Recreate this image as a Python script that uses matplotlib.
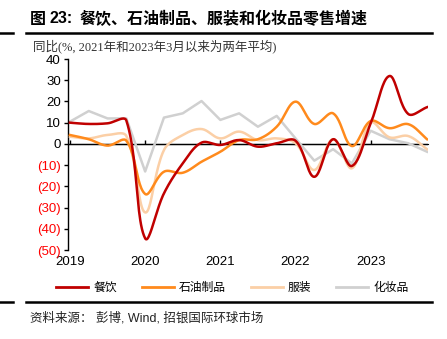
import numpy as np
import matplotlib
matplotlib.use("Agg")
import matplotlib.pyplot as plt
from matplotlib.lines import Line2D

plt.rcParams['font.family'] = ['Liberation Sans', 'Noto Sans CJK SC', 'DejaVu Sans']

# quarterly, 2019Q1 .. 2023Q4
years = ['2019', '2020', '2021', '2022', '2023']
catering = [10, 9.4, 9.7, 11, -44.5, -23.3, -9.2, 0.6, -0.5, 1.8, -1.3, 0.3, 1.5, -15.5, 2.2, -10.4, 9.7, 32, 14.1, 17.3]
petroleum = [4.2, 2.2, -0.8, 1.5, -23.6, -13.1, -13.6, -8.4, -3.7, 1.8, 2.2, 8.1, 19.9, 9.4, 14.4, -1, 10.8, 7.4, 9.3, 2.2]
apparel = [3.4, 2.6, 4.2, 3.7, -32.3, -2.9, 4.2, 7, 2.6, 5.8, 1.8, 2.6, 0.3, -12.3, 2.2, -11.5, 10, 3.1, 3.7, -2.5]
cosmetics = [10.5, 15.5, 12, 12, -13, 12.4, 14.4, 20.2, 11.3, 14.4, 8.1, 13.2, 2.6, -7.9, -2.5, -9.2, 6.2, 2.2, 0.3, -3.7]
names = ['餐饮', '石油制品', '服装', '化妆品']
colors = ['#C00000', '#FF8A1C', '#FBCFA6', '#D0D0D0']


def smooth(y, sx=18.75, sy=2.12, s=0.36, n=24):
    # excel-like smoothed line: bezier with chord-length weighted control points
    x = np.arange(len(y)) * sx
    y = np.asarray(y, float) * sy
    P = np.column_stack([x, y])
    m = len(P)
    cin = P.copy()
    cout = P.copy()
    for i in range(m):
        a = P[max(i - 1, 0)]
        b = P[min(i + 1, m - 1)]
        d1 = np.hypot(*(P[i] - a))
        d2 = np.hypot(*(b - P[i]))
        if d1 + d2 == 0:
            continue
        T = b - a
        cout[i] = P[i] + T * s * d2 / (d1 + d2)
        cin[i] = P[i] - T * s * d1 / (d1 + d2)
    out = []
    t = np.linspace(0, 1, n)[:, None]
    for i in range(m - 1):
        seg = ((1 - t) ** 3 * P[i] + 3 * (1 - t) ** 2 * t * cout[i]
               + 3 * (1 - t) * t ** 2 * cin[i + 1] + t ** 3 * P[i + 1])
        out.append(seg if i == 0 else seg[1:])
    out = np.vstack(out)
    return out[:, 0] / sx, out[:, 1] / sy


fig = plt.figure(figsize=(4.47, 3.39), dpi=100)
ax = fig.add_axes([0.1515, 0.2625, 0.806, 0.5634])

x = np.arange(len(catering))
ax.plot(x, cosmetics, color=colors[3], lw=1.8, zorder=2)
px, py = smooth(apparel)
ax.plot(px, py, color=colors[2], lw=1.8, zorder=3)
px, py = smooth(petroleum)
ax.plot(px, py, color=colors[1], lw=1.8, zorder=4)
px, py = smooth(catering)
ax.plot(px, py, color=colors[0], lw=1.8, zorder=5)

ax.axhline(0, color='black', lw=1, zorder=1)
ax.set_xlim(-0.12, 19.05)
ax.set_ylim(-50, 40)

yt = np.arange(-50, 41, 10)
ax.set_yticks(yt)
ax.set_yticklabels([str(v) if v >= 0 else '(%d)' % -v for v in yt], fontsize=9.5)
for lab, v in zip(ax.get_yticklabels(), yt):
    if v < 0:
        lab.set_color('#FF0000')
ax.tick_params(axis='y', length=3, width=1, pad=2)

ax.set_xticks([0, 4, 8, 12, 16])
ax.set_xticklabels(years, fontsize=9.5)
ax.tick_params(axis='x', length=0, pad=4)

for s in ['top', 'right', 'bottom']:
    ax.spines[s].set_visible(False)
ax.spines['left'].set_linewidth(1)

sec = ax.secondary_xaxis(50 / 90)
sec.set_xticks([0, 4, 8, 12, 16])
sec.set_xticklabels([])
sec.tick_params(length=3, width=1, direction='out')
sec.spines['bottom'].set_visible(False)

handles = [Line2D([], [], color=c, lw=2) for c in colors]
fig.legend(handles, names, loc='center', bbox_to_anchor=(0.52, 0.152), ncol=4, frameon=False,
           prop={'family': 'Noto Sans CJK SC', 'size': 8.5}, handlelength=2.7, columnspacing=2.1,
           handletextpad=0.45)

fig.text(0.067, 0.945, '图', fontsize=11.5, fontweight='bold', family='Noto Sans CJK SC', va='center')
fig.text(0.11, 0.945, '23:', fontsize=11.5, fontweight='bold', family='Liberation Sans', va='center')
fig.text(0.178, 0.945, '餐饮、石油制品、服装和化妆品零售增速', fontsize=11.5, fontweight='bold',
         family='Noto Sans CJK SC', va='center')
fig.text(0.074, 0.862, '同比(%, 2021年和2023年3月以来为两年平均)', fontsize=9, color='#333333',
         va='center', family=['Liberation Serif', 'Noto Sans CJK SC'])
fig.text(0.067, 0.061, '资料来源： 彭博, Wind, 招银国际环球市场', fontsize=9, color='#222222',
         va='center', family=['Liberation Sans', 'Noto Sans CJK SC'])

fig.add_artist(Line2D([0.0, 0.03], [0.902, 0.902], color='black', lw=1.8))
fig.add_artist(Line2D([0.058, 0.967], [0.902, 0.902], color='black', lw=1.8))
fig.add_artist(Line2D([0.0, 0.03], [0.109, 0.109], color='black', lw=1.8))
fig.add_artist(Line2D([0.058, 0.967], [0.109, 0.109], color='black', lw=1.8))

fig.savefig('out.png', dpi=100)
